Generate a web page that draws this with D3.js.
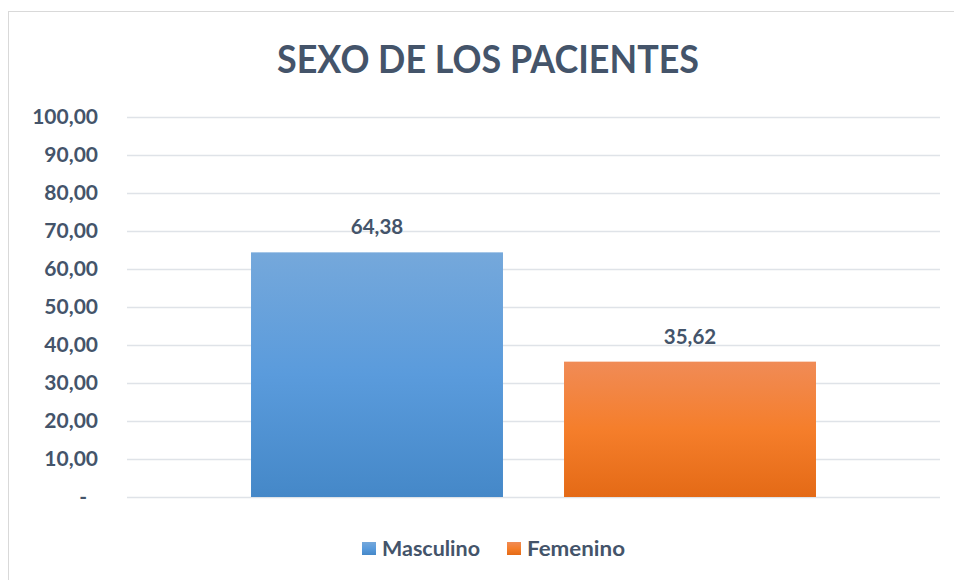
<!DOCTYPE html>
<html>
<head>
<meta charset="utf-8">
<script src="https://cdn.jsdelivr.net/npm/d3@7"></script>
<style>
  body { margin: 0; background: #ffffff; }
  text { font-family: Lato, "Open Sans", sans-serif; font-weight: bold; fill: #44546a; }
</style>
</head>
<body>
<div id="chart"></div>
<script>
// data
var categories = [""];
var seriesNames = ["Masculino", "Femenino"];
var seriesValues = [64.38, 35.62];
var yTicks = [0, 10, 20, 30, 40, 50, 60, 70, 80, 90, 100];
var chartTitle = "SEXO DE LOS PACIENTES";

var width = 954;
var height = 580;
var textColor = "#44546a";
var gridColor = "#dfe3e8";

var svg = d3.select("#chart").append("svg")
  .attr("width", width)
  .attr("height", height);

// 1. gradients for the bars
var defs = svg.append("defs");
var gradients = [
  {id: "gradBlue", stops: ["#75a8db", "#5a9bdc", "#4588c8"]},
  {id: "gradOrange", stops: ["#f08b56", "#f57e2b", "#e46a16"]}
];
gradients.forEach(function (g) {
  var lg = defs.append("linearGradient")
    .attr("id", g.id)
    .attr("x1", 0).attr("y1", 0).attr("x2", 0).attr("y2", 1);
  g.stops.forEach(function (c, i) {
    lg.append("stop").attr("offset", (i * 50) + "%").attr("stop-color", c);
  });
});
var fills = ["url(#gradBlue)", "url(#gradOrange)"];

// 2. chart border
svg.append("rect")
  .attr("x", 8.5).attr("y", 11.5)
  .attr("width", 960).attr("height", 600)
  .attr("fill", "#ffffff")
  .attr("stroke", "#d9d9d9")
  .attr("stroke-width", 1);

// 3. title
svg.append("text")
  .attr("x", 277)
  .attr("y", 72.5)
  .attr("font-size", 38)
  .attr("textLength", 422)
  .attr("lengthAdjust", "spacingAndGlyphs")
  .text(chartTitle);

// 4. scales
var plotLeft = 127, plotRight = 940;
var x0 = d3.scaleBand()
  .domain(categories)
  .range([plotLeft, plotRight])
  .paddingInner(0)
  .paddingOuter(0.2195);
var x1 = d3.scaleBand()
  .domain(seriesNames)
  .range([0, x0.bandwidth()])
  .paddingInner(0.195)
  .paddingOuter(0);
var y = d3.scaleLinear()
  .domain([0, 100])
  .range([497, 117]);

// 5. y axis with gridlines
var fmt = function (d) {
  if (d === 0) return "-";
  return d3.format(".2f")(d).replace(".", ",");
};
var yAxis = d3.axisLeft(y)
  .tickValues(yTicks)
  .tickSize(-(plotRight - plotLeft))
  .tickPadding(29)
  .tickFormat(fmt);
var gy = svg.append("g")
  .attr("transform", "translate(" + plotLeft + ",0)")
  .call(yAxis);
gy.select(".domain").remove();
gy.selectAll(".tick line")
  .attr("stroke", gridColor)
  .attr("stroke-width", 1.5);
gy.selectAll(".tick text")
  .attr("font-size", 21)
  .attr("fill", textColor)
  .attr("font-family", "Lato, sans-serif")
  .attr("font-weight", "bold")
  .attr("dx", function (d) { return d === 0 ? -11 : 0; });

// 6. bars
var bars = seriesNames.map(function (s, i) {
  return {cat: categories[0], name: s, value: seriesValues[i], fill: fills[i]};
});
svg.selectAll("rect.bar").data(bars)
  .enter().append("rect")
  .attr("class", "bar")
  .attr("x", function (d) { return x0(d.cat) + x1(d.name); })
  .attr("width", x1.bandwidth())
  .attr("y", function (d) { return y(d.value); })
  .attr("height", function (d) { return y(0) - y(d.value); })
  .attr("fill", function (d) { return d.fill; });

// 7. data labels
svg.selectAll("text.lbl").data(bars)
  .enter().append("text")
  .attr("class", "lbl")
  .attr("text-anchor", "middle")
  .attr("font-size", 20.5)
  .attr("x", function (d) { return x0(d.cat) + x1(d.name) + x1.bandwidth() / 2; })
  .attr("y", function (d) { return y(d.value) - 18; })
  .text(function (d) { return d.value.toFixed(2).replace(".", ","); });

// 8. legend
var legend = svg.append("g");
var lx = 362;
seriesNames.forEach(function (s, i) {
  legend.append("rect")
    .attr("x", lx).attr("y", 542)
    .attr("width", 14).attr("height", 13)
    .attr("fill", fills[i]);
  legend.append("text")
    .attr("x", lx + 20)
    .attr("y", 555.5)
    .attr("font-size", 21)
    .attr("textLength", 98)
    .attr("lengthAdjust", "spacingAndGlyphs")
    .text(s);
  lx = lx + 20 + 98 + 27;
});
</script>
</body>
</html>
